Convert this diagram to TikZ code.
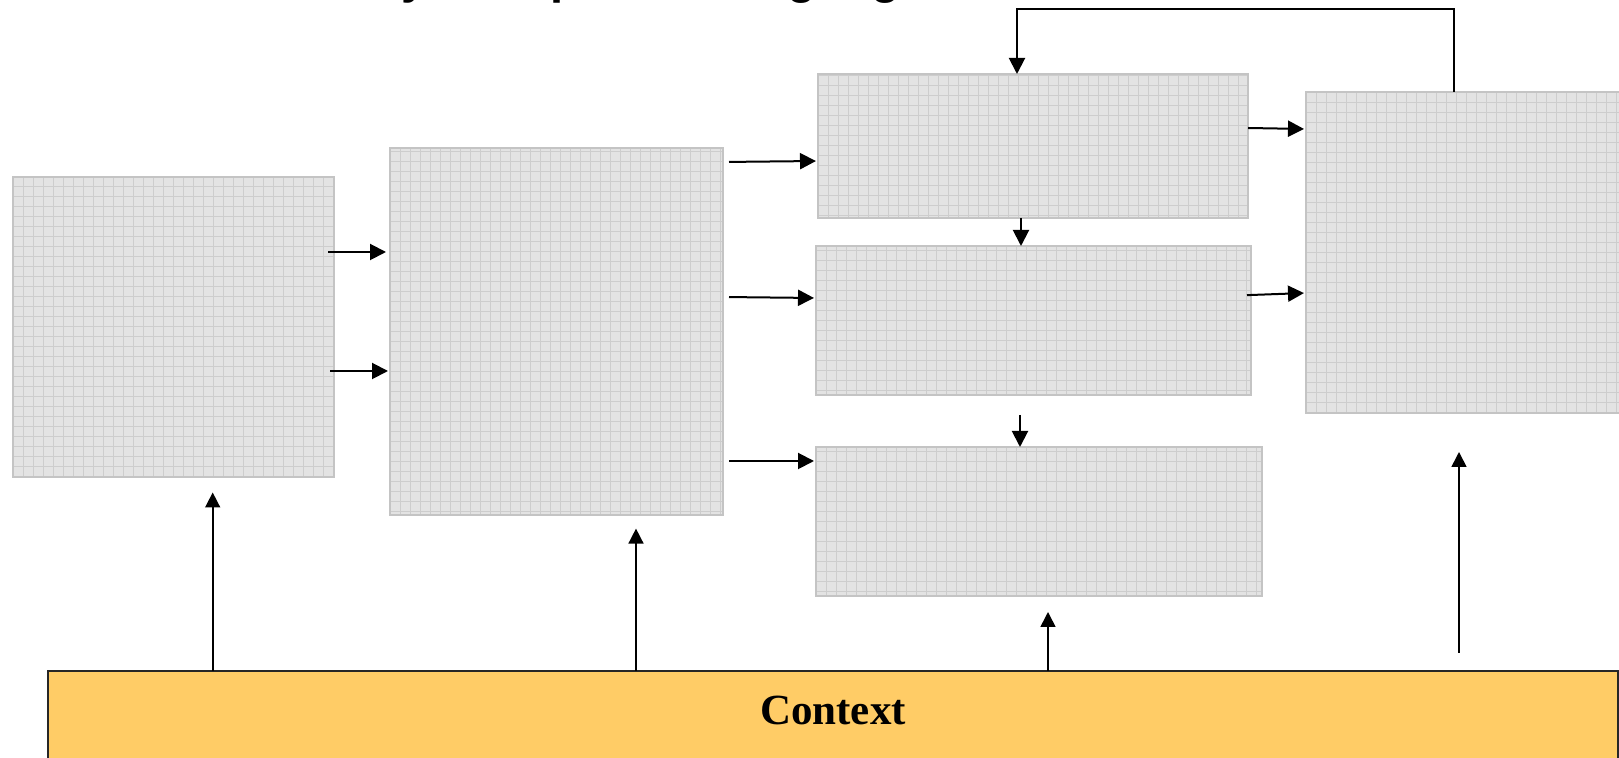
\documentclass[tikz,border=0pt]{standalone}
\usepackage{fontspec}
\setmainfont{Liberation Serif}
\newfontfamily\titlefont{Liberation Sans}
\usetikzlibrary{fit,arrows.meta}
\definecolor{boxfill}{HTML}{E3E3E3}
\definecolor{gridc}{HTML}{CDCDCD}
\definecolor{boxline}{HTML}{C4C4C4}
\definecolor{ctxfill}{HTML}{FFCC66}
\begin{document}
\begin{tikzpicture}[x=0.5pt,y=-0.5pt,
  gbox/.style={draw=boxline, line width=1pt, fill=boxfill, inner sep=0pt, outer sep=0pt,
    path picture={\draw[gridc, line width=0.5pt, step=5pt] (path picture bounding box.south west) grid (path picture bounding box.north east);}},
  ctxbox/.style={draw=black!85, line width=0.9pt, fill=ctxfill, inner sep=0pt, outer sep=0pt},
  flow/.style={line width=1pt, -{Triangle[length=8pt,width=8pt]}},
  upflow/.style={line width=0.8pt, -{Triangle[length=7.5pt,width=7.5pt]}},
  frag/.style={anchor=base, font=\titlefont\bfseries\fontsize{23.5}{28}\selectfont, inner sep=0pt},
  ctxtext/.style={anchor=base, font=\bfseries\fontsize{21.5}{26}\selectfont, inner sep=0pt}
]
\useasboundingbox (0,0) rectangle (1619,758);

% title fragments (cut off at the top edge)
\node[frag] (t1) at (415,-6.5) {y};
\node[frag] (t2) at (565,-6.5) {p};
\node[frag] (t3) at (802,-6.5) {g};
\node[frag] (t4) at (886,-6.5) {g};

% boxes
\node[gbox, fit={(13,177) (334,477)}] (A) {};
\node[gbox, fit={(390,148) (723,515)}] (B) {};
\node[gbox, fit={(818,74) (1248,218)}] (C) {};
\node[gbox, fit={(816,246) (1251,395)}] (D) {};
\node[gbox, fit={(816,447) (1262,596)}] (E) {};
\node[gbox, fit={(1306,92) (1650,413)}] (F) {};

% context bar
\node[ctxbox, fit={(48,671) (1618,790)}] (Ctx) {};
\node[ctxtext] (ctxlabel) at (833,725) {Context};

% connectors
\draw[flow, shorten <=-3pt, shorten >=2pt] (A.east |- 0,252) -- (B.west |- 0,252);
\draw[flow, shorten <=-2pt, shorten >=1pt] (A.east |- 0,371) -- (B.west |- 0,371);
\draw[flow, shorten <=3pt, shorten >=1pt] (B.east |- 0,162) -- (C.west |- 0,161);
\draw[flow, shorten <=3pt, shorten >=1pt] (B.east |- 0,297) -- (D.west |- 0,298);
\draw[flow, shorten <=3pt, shorten >=1pt] (B.east |- 0,461) -- (E.west |- 0,461);
\draw[flow] (C.south -| 1021,0) -- (D.north -| 1021,0);
\draw[flow, shorten <=10pt] (D.south -| 1020,0) -- (E.north -| 1020,0);
\draw[flow, shorten >=1pt] (C.east |- 0,128) -- (F.west |- 0,129);
\draw[flow, shorten <=-2pt, shorten >=1pt] (D.east |- 0,295) -- (F.west |- 0,293);
\coordinate (fb) at (1017,9);
\draw[flow] (F.north -| 1454,0) |- (fb) -- (C.north -| fb);

\draw[upflow, shorten >=7.75pt] (Ctx.north -| 212.7,0) -- (A.south -| 212.7,0);
\draw[upflow, shorten >=6.8pt] (Ctx.north -| 636,0) -- (B.south -| 636,0);
\draw[upflow, shorten >=8pt] (Ctx.north -| 1048,0) -- (E.south -| 1048,0);
\draw[upflow, shorten <=9pt, shorten >=19.5pt] (Ctx.north -| 1459,0) -- (F.south -| 1459,0);
\end{tikzpicture}
\end{document}
